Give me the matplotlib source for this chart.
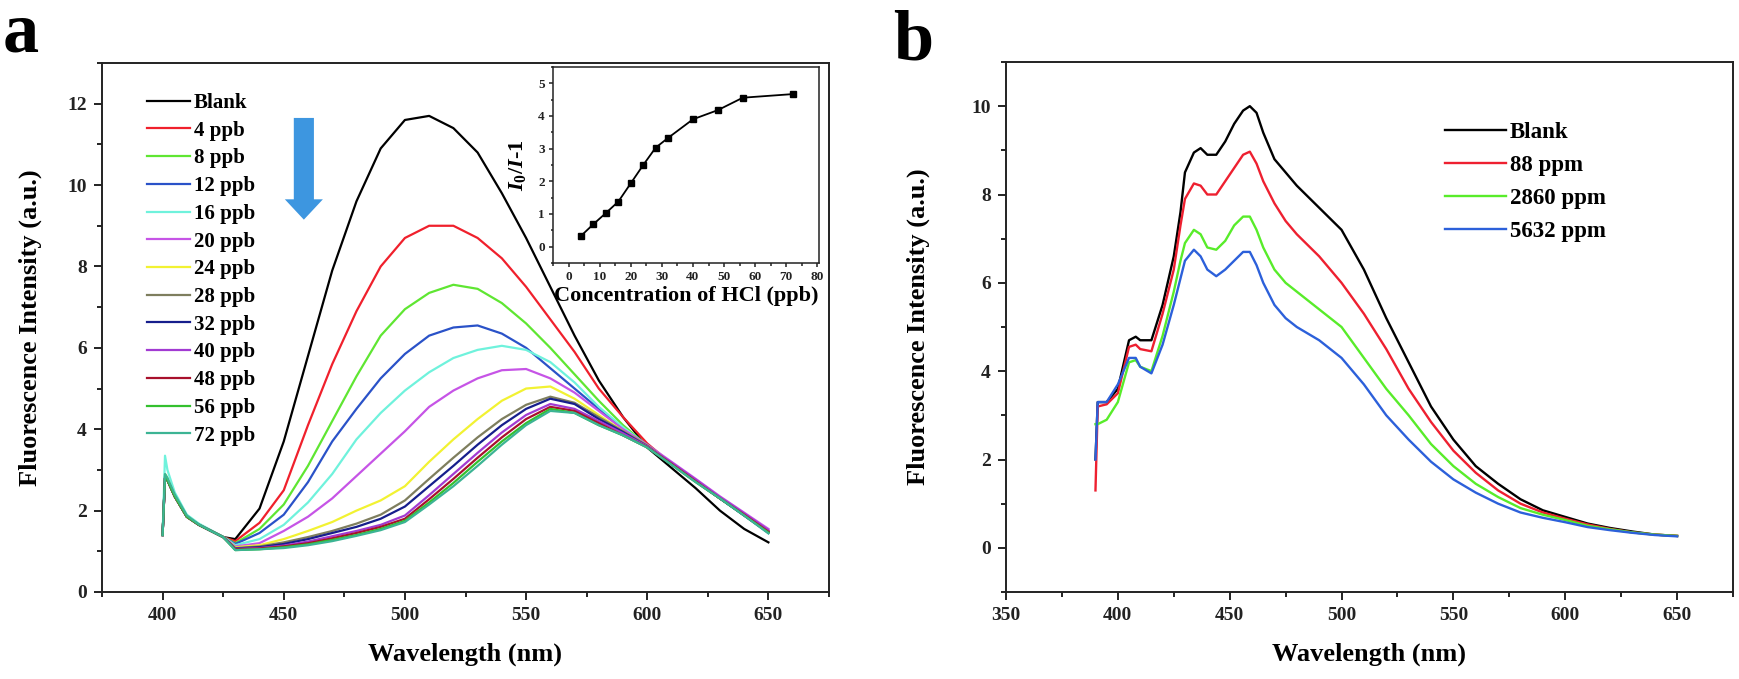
import matplotlib
matplotlib.use("Agg")
import matplotlib.pyplot as plt
from matplotlib.ticker import MultipleLocator

# ================= data =================
# panel a: fluorescence spectra vs. HCl concentration
WL_A = [400, 401, 402, 405, 410, 415, 420, 425, 430, 440, 450, 460, 470, 480, 490,
        500, 510, 520, 530, 540, 550, 560, 570, 580, 590, 600, 610, 620, 630, 640, 650]

LABELS_A = ["Blank", "4 ppb", "8 ppb", "12 ppb", "16 ppb", "20 ppb", "24 ppb",
            "28 ppb", "32 ppb", "40 ppb", "48 ppb", "56 ppb", "72 ppb"]

blank_a = [1.4, 2.85, 2.75, 2.35, 1.85, 1.65, 1.5, 1.35, 1.3, 2.05, 3.7, 5.8, 7.9, 9.6, 10.9,
           11.6, 11.7, 11.4, 10.8, 9.8, 8.7, 7.5, 6.3, 5.2, 4.3, 3.55, 3.05, 2.55, 2.0, 1.55, 1.22]
ppb4 = [1.4, 2.8, 2.75, 2.35, 1.85, 1.65, 1.5, 1.35, 1.25, 1.7, 2.5, 4.1, 5.6, 6.9, 8.0,
        8.7, 9.0, 9.0, 8.7, 8.2, 7.5, 6.7, 5.9, 5.0, 4.3, 3.65, 3.15, 2.72, 2.3, 1.9, 1.5]
ppb8 = [1.4, 2.9, 2.8, 2.35, 1.85, 1.65, 1.5, 1.35, 1.2, 1.55, 2.15, 3.1, 4.2, 5.3, 6.3,
        6.95, 7.35, 7.55, 7.45, 7.1, 6.6, 6.0, 5.35, 4.7, 4.1, 3.6, 3.15, 2.72, 2.3, 1.9, 1.48]
ppb12 = [1.4, 2.8, 2.75, 2.35, 1.85, 1.65, 1.5, 1.35, 1.18, 1.45, 1.9, 2.7, 3.7, 4.5, 5.25,
         5.85, 6.3, 6.5, 6.55, 6.35, 6.0, 5.5, 5.0, 4.5, 4.0, 3.6, 3.15, 2.72, 2.3, 1.88, 1.45]
ppb16 = [1.4, 3.35, 3.0, 2.45, 1.9, 1.68, 1.52, 1.36, 1.15, 1.3, 1.65, 2.2, 2.9, 3.75, 4.4,
         4.95, 5.4, 5.75, 5.95, 6.05, 5.95, 5.65, 5.15, 4.55, 4.05, 3.6, 3.15, 2.72, 2.3, 1.9, 1.48]
ppb20 = [1.4, 2.8, 2.75, 2.35, 1.85, 1.65, 1.5, 1.35, 1.12, 1.2, 1.5, 1.85, 2.3, 2.85, 3.4,
         3.95, 4.55, 4.95, 5.25, 5.45, 5.48, 5.25, 4.9, 4.45, 4.0, 3.62, 3.2, 2.78, 2.35, 1.95, 1.55]
ppb24 = [1.4, 2.8, 2.75, 2.35, 1.85, 1.65, 1.5, 1.35, 1.1, 1.15, 1.3, 1.5, 1.72, 2.0, 2.25,
         2.6, 3.2, 3.75, 4.25, 4.7, 5.0, 5.05, 4.75, 4.35, 3.95, 3.6, 3.15, 2.72, 2.3, 1.9, 1.5]
ppb28 = [1.4, 2.8, 2.75, 2.35, 1.85, 1.65, 1.5, 1.35, 1.08, 1.12, 1.22, 1.35, 1.5, 1.68, 1.9,
         2.25, 2.78, 3.3, 3.8, 4.25, 4.6, 4.8, 4.65, 4.3, 3.95, 3.6, 3.15, 2.72, 2.3, 1.9, 1.5]
ppb32 = [1.4, 2.8, 2.75, 2.35, 1.85, 1.65, 1.5, 1.35, 1.07, 1.1, 1.18, 1.3, 1.45, 1.6, 1.8,
         2.1, 2.6, 3.1, 3.62, 4.1, 4.5, 4.75, 4.62, 4.25, 3.93, 3.58, 3.15, 2.72, 2.3, 1.88, 1.47]
ppb40 = [1.4, 2.8, 2.75, 2.35, 1.85, 1.65, 1.5, 1.35, 1.06, 1.08, 1.14, 1.24, 1.37, 1.5, 1.65,
         1.88, 2.38, 2.9, 3.42, 3.92, 4.35, 4.62, 4.5, 4.2, 3.9, 3.58, 3.18, 2.76, 2.33, 1.93, 1.52]
ppb48 = [1.4, 2.8, 2.75, 2.35, 1.85, 1.65, 1.5, 1.35, 1.05, 1.07, 1.12, 1.2, 1.32, 1.45, 1.6,
         1.8, 2.28, 2.78, 3.3, 3.8, 4.25, 4.55, 4.45, 4.15, 3.85, 3.56, 3.15, 2.72, 2.3, 1.9, 1.48]
ppb56 = [1.4, 2.8, 2.75, 2.35, 1.85, 1.65, 1.5, 1.35, 1.03, 1.05, 1.1, 1.17, 1.28, 1.4, 1.55,
         1.75, 2.2, 2.68, 3.2, 3.7, 4.15, 4.5, 4.4, 4.1, 3.85, 3.55, 3.13, 2.7, 2.3, 1.88, 1.46]
ppb72 = [1.4, 2.9, 2.8, 2.4, 1.88, 1.66, 1.5, 1.35, 1.03, 1.05, 1.08, 1.15, 1.25, 1.38, 1.52,
         1.72, 2.15, 2.6, 3.1, 3.62, 4.1, 4.45, 4.4, 4.1, 3.85, 3.55, 3.13, 2.7, 2.3, 1.88, 1.44]

SERIES_A = [blank_a, ppb4, ppb8, ppb12, ppb16, ppb20, ppb24,
            ppb28, ppb32, ppb40, ppb48, ppb56, ppb72]
COLORS_A = ["#000000", "#f0202c", "#5fe632", "#2a52c8", "#6ff2dc", "#c654e6", "#f2f232",
            "#7e7e5e", "#161e8c", "#a23ad2", "#a8102c", "#34c02e", "#3cb494"]

# inset: I0/I - 1 vs concentration
CONC = [4, 8, 12, 16, 20, 24, 28, 32, 40, 48, 56, 72]
QUENCH = [0.33, 0.69, 1.03, 1.38, 1.94, 2.5, 3.03, 3.33, 3.9, 4.18, 4.56, 4.67]

# panel b: spectra at high concentrations
WL_B = [390, 391, 395, 400, 405, 408, 410, 415, 420, 425, 428, 430, 434, 437, 440, 444,
        448, 452, 456, 459, 462, 465, 470, 475, 480, 490, 500, 510, 520, 530, 540, 550,
        560, 570, 580, 590, 600, 610, 620, 630, 640, 650]
LABELS_B = ["Blank", "88 ppm", "2860 ppm", "5632 ppm"]

blank_b = [2.0, 3.3, 3.3, 3.6, 4.7, 4.78, 4.7, 4.7, 5.5, 6.6, 7.6, 8.5, 8.95, 9.05, 8.9, 8.9,
           9.2, 9.6, 9.9, 10.0, 9.85, 9.4, 8.8, 8.5, 8.2, 7.7, 7.2, 6.3, 5.2, 4.2, 3.2, 2.45,
           1.85, 1.45, 1.1, 0.85, 0.7, 0.55, 0.45, 0.37, 0.3, 0.27]
ppm88 = [1.3, 3.2, 3.25, 3.5, 4.55, 4.6, 4.5, 4.45, 5.3, 6.3, 7.3, 7.9, 8.25, 8.2, 8.0, 8.0,
         8.3, 8.6, 8.9, 8.97, 8.7, 8.3, 7.8, 7.4, 7.1, 6.6, 6.0, 5.3, 4.5, 3.6, 2.85, 2.2,
         1.7, 1.3, 1.0, 0.8, 0.66, 0.53, 0.43, 0.35, 0.3, 0.27]
ppm2860 = [2.8, 2.8, 2.9, 3.3, 4.2, 4.25, 4.1, 4.0, 4.8, 5.8, 6.5, 6.9, 7.2, 7.1, 6.8, 6.75,
           6.95, 7.3, 7.5, 7.5, 7.2, 6.8, 6.3, 6.0, 5.8, 5.4, 5.0, 4.3, 3.6, 3.0, 2.35, 1.85,
           1.45, 1.15, 0.9, 0.75, 0.63, 0.5, 0.42, 0.35, 0.3, 0.27]
ppm5632 = [2.0, 3.3, 3.3, 3.7, 4.3, 4.3, 4.1, 3.95, 4.6, 5.5, 6.1, 6.5, 6.75, 6.6, 6.3, 6.15,
           6.3, 6.5, 6.7, 6.7, 6.4, 6.0, 5.5, 5.2, 5.0, 4.7, 4.3, 3.7, 3.0, 2.45, 1.95, 1.55,
           1.25, 1.0, 0.8, 0.68, 0.58, 0.47, 0.4, 0.34, 0.29, 0.26]

SERIES_B = [blank_b, ppm88, ppm2860, ppm5632]
COLORS_B = ["#000000", "#ee2030", "#58ec2a", "#2c60da"]

# ================= style =================
W, H = 1739, 679
plt.rcParams['font.family'] = ['Liberation Serif', 'DejaVu Serif']
plt.rcParams['font.weight'] = 'bold'
plt.rcParams['axes.labelweight'] = 'bold'
plt.rcParams['mathtext.fontset'] = 'custom'
plt.rcParams['mathtext.it'] = 'Liberation Serif:italic:bold'
plt.rcParams['mathtext.rm'] = 'Liberation Serif:bold'
plt.rcParams['mathtext.bf'] = 'Liberation Serif:bold'


def box(l, t, r, b):
    """pixel box (left, top, right, bottom) -> figure fraction rect"""
    return [l / W, 1 - b / H, (r - l) / W, (b - t) / H]


def style_axes(ax, lw=1.4, major=6, minor=3.5, size=14, pad=5):
    for s in ax.spines.values():
        s.set_linewidth(lw)
        s.set_color("#222222")
    ax.tick_params(which='both', direction='out', top=False, right=False,
                   width=lw, colors="#222222")
    ax.tick_params(which='major', length=major, labelsize=size, pad=pad)
    ax.tick_params(which='minor', length=minor)


fig = plt.figure(figsize=(W / 100, H / 100), dpi=100)

# ---------- panel a ----------
ax_a = fig.add_axes(box(102, 63, 829, 592))
for ys, c, lab in zip(SERIES_A, COLORS_A, LABELS_A):
    ax_a.plot(WL_A, ys, color=c, lw=1.6, label=lab)
ax_a.set_xlim(375, 675)
ax_a.set_ylim(0, 13)
ax_a.xaxis.set_major_locator(MultipleLocator(50))
ax_a.xaxis.set_minor_locator(MultipleLocator(25))
ax_a.yaxis.set_major_locator(MultipleLocator(2))
ax_a.yaxis.set_minor_locator(MultipleLocator(1))
style_axes(ax_a)
ax_a.set_xlabel("Wavelength (nm)", fontsize=19)
ax_a.set_ylabel("Fluorescence Intensity (a.u.)", fontsize=19)
ax_a.xaxis.set_label_coords(0.5, -0.095)
ax_a.yaxis.set_label_coords(-0.082, 0.5)
ax_a.legend(loc='upper left', bbox_to_anchor=(147 / W, 1 - 93 / H),
            bbox_transform=fig.transFigure, frameon=False, fontsize=15,
            handlelength=2.07, handletextpad=0.18, labelspacing=0.37,
            borderpad=0, borderaxespad=0)
# downward arrow
ax_a.arrow(458.3, 11.65, 0, -2.5, width=8.3, head_width=15.7, head_length=0.5,
           length_includes_head=True, color="#3d96e0", lw=0)

# inset
ax_in = fig.add_axes(box(553, 67, 819, 263))
ax_in.plot(CONC, QUENCH, color='black', lw=1.3, marker='s', markersize=4)
ax_in.set_xlim(-5, 80.5)
ax_in.set_ylim(-0.5, 5.5)
ax_in.xaxis.set_major_locator(MultipleLocator(10))
ax_in.xaxis.set_minor_locator(MultipleLocator(5))
ax_in.yaxis.set_major_locator(MultipleLocator(1))
ax_in.yaxis.set_minor_locator(MultipleLocator(0.5))
style_axes(ax_in, lw=1.1, major=3, minor=1.8, size=9.5, pad=3)
ax_in.set_xlabel("Concentration of HCl (ppb)", fontsize=16, labelpad=2)
ax_in.set_ylabel(r"$I_0$/$I$-1", fontsize=16, labelpad=7)

# ---------- panel b ----------
ax_b = fig.add_axes(box(1006, 62, 1733, 592))
for ys, c, lab in zip(SERIES_B, COLORS_B, LABELS_B):
    ax_b.plot(WL_B, ys, color=c, lw=1.7, label=lab)
ax_b.set_xlim(350, 675)
ax_b.set_ylim(-1, 11)
ax_b.xaxis.set_major_locator(MultipleLocator(50))
ax_b.xaxis.set_minor_locator(MultipleLocator(25))
ax_b.yaxis.set_major_locator(MultipleLocator(2))
ax_b.yaxis.set_minor_locator(MultipleLocator(1))
style_axes(ax_b)
ax_b.set_xlabel("Wavelength (nm)", fontsize=19)
ax_b.set_ylabel("Fluorescence Intensity (a.u.)", fontsize=19)
ax_b.xaxis.set_label_coords(0.5, -0.095)
ax_b.yaxis.set_label_coords(-0.104, 0.5)
ax_b.legend(loc='upper left', bbox_to_anchor=(1445 / W, 1 - 122 / H),
            bbox_transform=fig.transFigure, frameon=False, fontsize=16.5,
            handlelength=2.64, handletextpad=0.2, labelspacing=0.52,
            borderpad=0, borderaxespad=0)

# panel letters
fig.text(3 / W, 1 - 52 / H, "a", fontsize=52, fontweight='bold', va='baseline')
fig.text(893 / W, 1 - 60 / H, "b", fontsize=52, fontweight='bold', va='baseline')

fig.savefig("out.png", dpi=100)
